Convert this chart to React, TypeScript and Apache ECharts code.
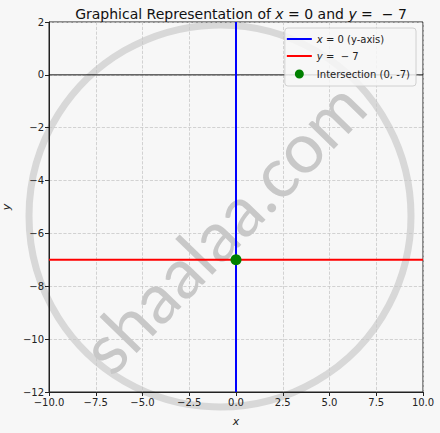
import React, { useEffect, useRef } from "react";
import * as echarts from "echarts";

const xTicks = [-10, -7.5, -5, -2.5, 0, 2.5, 5, 7.5, 10];
const yTicks = [-12, -10, -8, -6, -4, -2, 0, 2];
const blueLine = [[0, -12], [0, 2]];
const redLine = [[-10, -7], [10, -7]];
const zeroLine = [[-10, 0], [10, 0]];
const intersection = [[0, -7]];
const legendNames = ["x = 0 (y-axis)", "y = −7", "Intersection (0, -7)"];

const minus = (s: string) => s.replace("-", "−");
const FONT = "'DejaVu Sans', sans-serif";

export default function App() {
  const ref = useRef<HTMLDivElement>(null);
  useEffect(() => {
    const chart = echarts.init(ref.current!, undefined, { renderer: "svg" });
    chart.setOption({
      animation: false,
      backgroundColor: "#f7f7f7",
      textStyle: { fontFamily: FONT },
      title: {
        text: "Graphical Representation of {i|x} = 0 and {i|y} =  − 7",
        left: 236,
        textAlign: "center",
        top: 2,
        textStyle: {
          fontSize: 14,
          fontWeight: "normal",
          color: "#111",
          fontFamily: FONT,
          rich: { i: { fontStyle: "italic", fontSize: 14, fontFamily: FONT, color: "#111" } },
        },
      },
      grid: {
        left: 49,
        right: 17,
        top: 22,
        bottom: 41,
        outerBoundsMode: "none",
        containLabel: false,
        show: true,
        borderColor: "#222",
        borderWidth: 1,
        backgroundColor: "transparent",
      },
      xAxis: {
        type: "value",
        min: xTicks[0],
        max: xTicks[xTicks.length - 1],
        interval: 2.5,
        name: "x",
        nameLocation: "middle",
        nameGap: 24,
        nameTextStyle: { fontStyle: "italic", fontSize: 11, color: "#222", fontFamily: FONT },
        axisLine: { show: true, onZero: false, lineStyle: { color: "#222" } },
        axisTick: { show: true, length: 4, lineStyle: { color: "#222" } },
        axisLabel: { fontSize: 10, color: "#222", margin: 5, formatter: (v: number) => minus(v.toFixed(1)) },
        splitLine: { show: true, lineStyle: { color: "#c8c8c8", type: "dashed", width: 0.8 } },
      },
      yAxis: {
        type: "value",
        min: yTicks[0],
        max: yTicks[yTicks.length - 1],
        interval: 2,
        name: "y",
        nameLocation: "middle",
        nameGap: 36,
        nameTextStyle: { fontStyle: "italic", fontSize: 11, color: "#222", fontFamily: FONT },
        axisLine: { show: true, onZero: false, lineStyle: { color: "#222" } },
        axisTick: { show: true, length: 4, lineStyle: { color: "#222" } },
        axisLabel: { fontSize: 10, color: "#222", margin: 5, formatter: (v: number) => minus(String(v)) },
        splitLine: { show: true, lineStyle: { color: "#c8c8c8", type: "dashed", width: 0.8 } },
      },
      legend: {
        orient: "vertical",
        right: 24,
        top: 28,
        itemGap: 7,
        itemWidth: 25,
        itemHeight: 12,
        padding: [6, 6, 6, 2],
        backgroundColor: "rgba(247,247,247,0.85)",
        borderColor: "#d0d0d0",
        borderWidth: 1,
        borderRadius: 3,
        data: [
          { name: legendNames[0], icon: "path://M0,5 L25,5 L25,7 L0,7 Z" },
          { name: legendNames[1], icon: "path://M0,5 L25,5 L25,7 L0,7 Z" },
          { name: legendNames[2], icon: "path://M12.5,6 m-4.5,0 a4.5,4.5 0 1,0 9,0 a4.5,4.5 0 1,0 -9,0 M0,0 L0.01,0 M25,12 L24.99,12" },
        ],
        formatter: (n: string) => {
          if (n === legendNames[0]) return "{i|x} = 0 (y-axis)";
          if (n === legendNames[1]) return "{i|y} =  − 7";
          return n;
        },
        textStyle: {
          fontSize: 10,
          color: "#222",
          fontFamily: FONT,
          rich: { i: { fontStyle: "italic", fontSize: 10, fontFamily: FONT, color: "#222" } },
        },
      },
      graphic: [
        {
          type: "circle",
          shape: { cx: 220, cy: 216, r: 191 },
          style: { fill: "none", stroke: "#d8d8d8", lineWidth: 7 },
          z: -1,
          silent: true,
        },
        {
          type: "text",
          x: 222,
          y: 226,
          rotation: (46 * Math.PI) / 180,
          style: {
            text: "shaalaa.com",
            fontSize: 70,
            fontFamily: "Lato, sans-serif",
            fill: "#c8c8c8",
            align: "center",
            verticalAlign: "middle",
          },
          z: -1,
          silent: true,
        },
      ],
      series: [
        {
          type: "line",
          data: zeroLine,
          symbol: "none",
          lineStyle: { color: "#000", width: 0.9 },
          z: 3,
          silent: true,
        },
        {
          name: legendNames[0],
          type: "line",
          data: blueLine,
          symbol: "none",
          color: "#0000ff",
          lineStyle: { color: "#0000ff", width: 2 },
          z: 4,
        },
        {
          name: legendNames[1],
          type: "line",
          data: redLine,
          symbol: "none",
          color: "#ff0000",
          lineStyle: { color: "#ff0000", width: 2 },
          z: 4,
        },
        {
          name: legendNames[2],
          type: "scatter",
          data: intersection,
          symbolSize: 11,
          color: "#008000",
          itemStyle: { color: "#008000", opacity: 1 },
          z: 5,
        },
      ],
    });
    return () => chart.dispose();
  }, []);
  return (
    <div
      ref={ref}
      style={{ position: "absolute", left: 0, top: 0, width: 440, height: 433, background: "#f7f7f7" }}
    />
  );
}
